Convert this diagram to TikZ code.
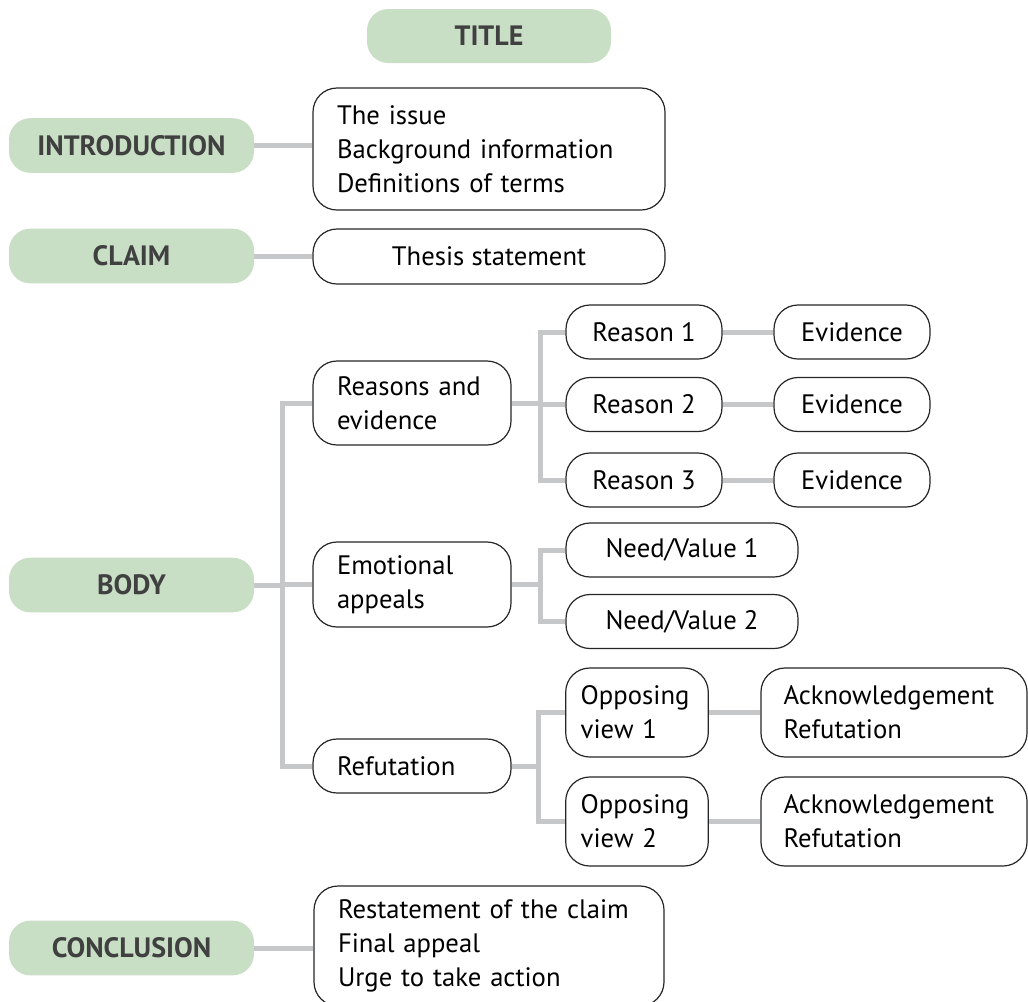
\documentclass[tikz,border=0pt]{standalone}
\usepackage{fontspec}
\setmainfont{PT Sans}
\definecolor{pillgreen}{HTML}{C8DEC5}
\definecolor{linkgray}{HTML}{C6C7C9}
\definecolor{labelgray}{HTML}{404040}
\begin{document}
\begin{tikzpicture}[x=0.75pt,y=-0.75pt,
  every node/.style={font=\fontsize{20pt}{25.5pt}\selectfont},
  pill/.style={fill=pillgreen, rounded corners=16pt, minimum width=183.75pt, minimum height=41pt, inner sep=0pt,
    font=\fontsize{21pt}{25.5pt}\selectfont\bfseries, text=labelgray},
  wbox/.style={draw=black!85, line width=0.9pt, fill=white, rounded corners=18pt, inner sep=0pt, text=black},
  lbox/.style={wbox, align=left, inner xsep=18pt},
  link/.style={draw=linkgray, line width=3.75pt}]
\useasboundingbox (0,0) rectangle (1028,1001);
\clip (0,0) rectangle (1028,1001);

% green labels
\node[pill, minimum width=183pt, minimum height=40.5pt] (title) at (489,36) {TITLE};
\node[pill] (introG) at (131.5,145.5) {INTRODUCTION};
\node[pill] (claimG) at (131.5,256) {CLAIM};
\node[pill] (bodyG) at (131.5,585) {BODY};
\node[pill] (conclG) at (131.5,948) {CONCLUSION};

% introduction and claim
\node[lbox, text width=228pt, minimum height=91.5pt] (introW) at (489,149)
  {The issue\\Background information\\Definitions of terms};
\node[wbox, minimum width=264pt, minimum height=41.25pt] (thesis) at (489,256.5) {Thesis statement};

% body, second level
\node[lbox, text width=112.5pt, minimum height=63pt] (reasons) at (412,403) {Reasons and\\evidence};
\node[lbox, text width=112.5pt, minimum height=63.75pt] (emot) at (412,584.5) {Emotional\\appeals};
\node[lbox, text width=112.5pt, minimum height=40.5pt] (refut) at (412,766) {Refutation};

% reasons
\node[wbox, minimum width=117pt, minimum height=40.5pt] (r1) at (644,332) {Reason 1};
\node[wbox, minimum width=117pt, minimum height=40.5pt] (r2) at (644,404.5) {Reason 2};
\node[wbox, minimum width=117pt, minimum height=40.5pt] (r3) at (644,480) {Reason 3};
\node[wbox, minimum width=117pt, minimum height=40.5pt] (e1) at (852,332) {Evidence};
\node[wbox, minimum width=117pt, minimum height=40.5pt] (e2) at (852,404.5) {Evidence};
\node[wbox, minimum width=117pt, minimum height=40.5pt] (e3) at (852,480) {Evidence};

% needs
\node[wbox, minimum width=174pt, minimum height=40.5pt] (n1) at (682,550) {Need/Value 1};
\node[wbox, minimum width=174pt, minimum height=40.5pt] (n2) at (682,621.5) {Need/Value 2};

% opposing views
\node[wbox, align=left, inner xsep=11.25pt, text width=84.4pt, minimum height=66.75pt] (o1) at (637,712.5) {Opposing\\view 1};
\node[wbox, align=left, inner xsep=11.25pt, text width=84.4pt, minimum height=66.75pt] (o2) at (637,821.5) {Opposing\\view 2};
\node[wbox, align=left, inner xsep=16.9pt, text width=165.75pt, minimum height=66.75pt] (a1) at (894,712.5) {Acknowledgement\\Refutation};
\node[wbox, align=left, inner xsep=16.9pt, text width=165.75pt, minimum height=66.75pt] (a2) at (894,821.5) {Acknowledgement\\Refutation};

% conclusion
\node[lbox, text width=226.5pt, minimum height=90pt] (conclW) at (489,946)
  {Restatement of the claim\\Final appeal\\Urge to take action};

% branch coordinates
\coordinate (trunk) at (282,585);
\coordinate (bR) at (540,403);
\coordinate (bE) at (540,584.5);
\coordinate (bF) at (538,766);

% connectors
\draw[link] (introG.east) -- (introG.east -| introW.west);
\draw[link] (claimG.east) -- (claimG.east -| thesis.west);
\draw[link] (conclG.east) -- (conclG.east -| conclW.west);

\draw[link] (bodyG.east) -- (trunk);
\draw[link] (reasons.west) -- (reasons.west -| trunk) -- (refut.west -| trunk) -- (refut.west);
\draw[link] (emot.west) -- (emot.west -| trunk);

\draw[link] (reasons.east) -- (bR);
\draw[link] (r1.west) -- (r1.west -| bR) -- (r3.west -| bR) -- (r3.west);
\draw[link] (r2.west) -- (r2.west -| bR);
\draw[link] (r1) -- (e1);
\draw[link] (r2) -- (e2);
\draw[link] (r3) -- (e3);

\draw[link] (emot.east) -- (bE);
\draw[link] (n1.west) -- (n1.west -| bE) -- (n2.west -| bE) -- (n2.west);

\draw[link] (refut.east) -- (bF);
\draw[link] (o1.west) -- (o1.west -| bF) -- (o2.west -| bF) -- (o2.west);
\draw[link] (o1) -- (a1);
\draw[link] (o2) -- (a2);
\end{tikzpicture}
\end{document}
